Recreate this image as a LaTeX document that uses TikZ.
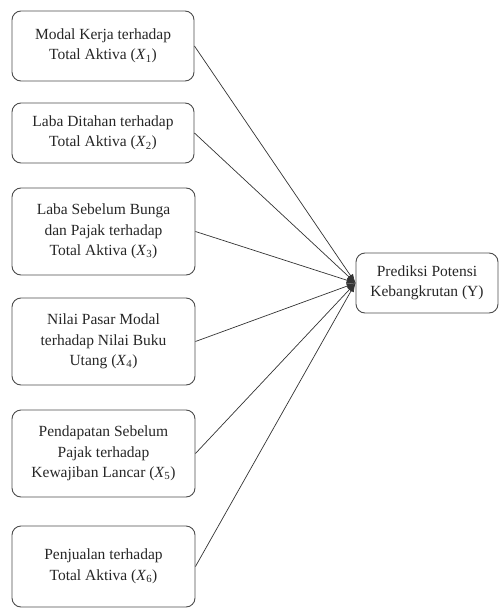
\documentclass[tikz,border=0pt]{standalone}
\usepackage{fontspec}
\setmainfont{Liberation Serif}
\usetikzlibrary{arrows.meta}
\newcommand{\xsub}[1]{(\textit{X}\textsubscript{#1})}
\begin{document}
\begin{tikzpicture}[x=1pt,y=-1pt,
  box/.style={draw=black!70, line width=0.9pt, rounded corners=9pt, align=center,
    font=\fontsize{15.5}{20.5}\selectfont, text=black!85, inner sep=2pt},
  link/.style={draw=black!80, line width=0.7pt, -{Latex[length=9pt,width=6pt]}}]
\useasboundingbox (0,0) rectangle (500,610);
\node[box, minimum width=182pt, minimum height=70pt] (x1) at (103,46) {Modal Kerja terhadap\\Total Aktiva \xsub{1}};
\node[box, minimum width=182pt, minimum height=60pt] (x2) at (103,133) {Laba Ditahan terhadap\\Total Aktiva \xsub{2}};
\node[box, minimum width=183pt, minimum height=87pt] (x3) at (103.5,231.5) {Laba Sebelum Bunga\\dan Pajak terhadap\\Total Aktiva \xsub{3}};
\node[box, minimum width=183pt, minimum height=87pt] (x4) at (103.5,341.5) {Nilai Pasar Modal\\terhadap Nilai Buku\\Utang \xsub{4}};
\node[box, minimum width=183pt, minimum height=87pt] (x5) at (103.5,453.5) {Pendapatan Sebelum\\Pajak terhadap\\Kewajiban Lancar \xsub{5}};
\node[box, minimum width=183pt, minimum height=81pt] (x6) at (103.5,566.5) {Penjualan terhadap\\Total Aktiva \xsub{6}};
\node[box, minimum width=142pt, minimum height=60pt] (y) at (427,283) {Prediksi Potensi\\Kebangkrutan (Y)};
\foreach \n in {x1,x2,x3,x4,x5,x6}
  \draw[link] (\n.east) -- (y.west);
\end{tikzpicture}
\end{document}
